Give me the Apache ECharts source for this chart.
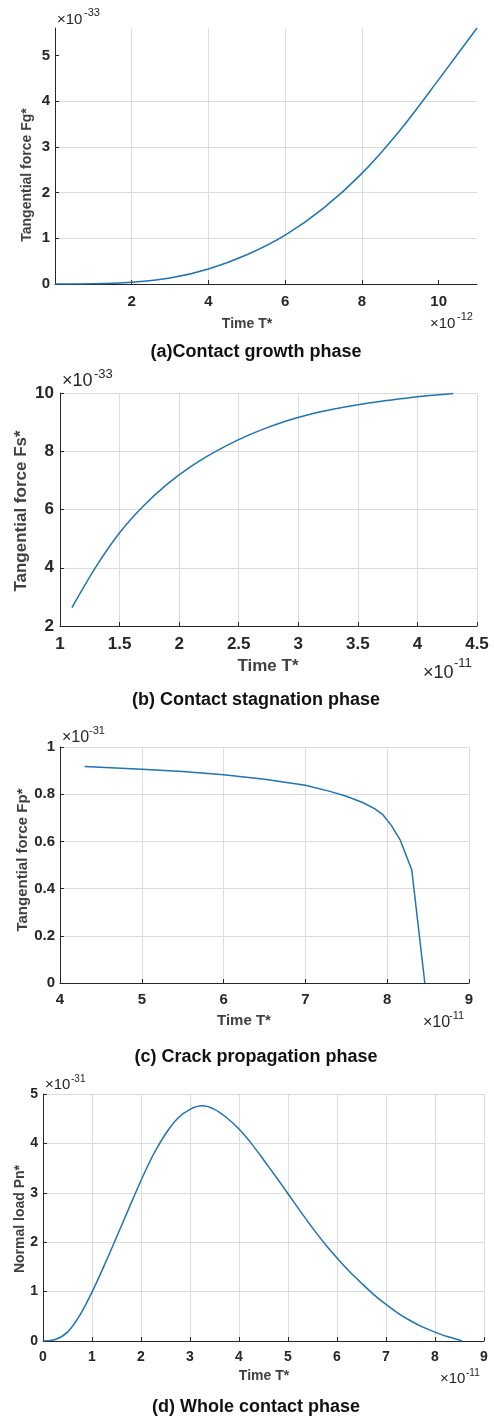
<!DOCTYPE html>
<html>
<head>
<meta charset="utf-8">
<script src="https://cdn.jsdelivr.net/npm/echarts@6/dist/echarts.min.js"></script>
<style>
    html, body { margin: 0; padding: 0; background: #fff; }
    #main { width: 494px; height: 1416px; }
</style>
</head>
<body>
<div id="main"></div>
<script>
    // (a) contact growth phase: T* in 1e-12, Fg* in 1e-33
    var growthT = [0, 1, 2, 3, 4, 5, 6, 7, 8, 9, 10, 11]
    var growthF = [0, 0.005, 0.04, 0.13, 0.33, 0.64, 1.07, 1.66, 2.42, 3.37, 4.47, 5.6]

    // (b) contact stagnation phase: T* in 1e-11, Fs* in 1e-33
    var stagT = [1.1, 1.3, 1.5, 1.7, 1.9, 2.1, 2.3, 2.5, 2.7, 2.9, 3.1, 3.3, 3.5, 3.7, 3.9, 4.1, 4.3]
    var stagF = [2.63, 4.02, 5.20, 6.12, 6.87, 7.48, 7.98, 8.40, 8.75, 9.04, 9.27, 9.45, 9.60, 9.72, 9.82, 9.91, 9.98]

    // (c) crack propagation phase: T* in 1e-11, Fp* in 1e-31
    var crackT = [4.3, 5, 5.5, 6, 6.5, 7, 7.3, 7.5, 7.7, 7.85, 7.95, 8.05, 8.16, 8.3, 8.46]
    var crackF = [0.917, 0.906, 0.896, 0.882, 0.863, 0.838, 0.812, 0.791, 0.765, 0.738, 0.712, 0.668, 0.605, 0.48, 0]

    // (d) whole contact phase: T* in 1e-11, Pn* in 1e-31
    var wholeT = [0, 0.25, 0.5, 0.75, 1, 1.25, 1.5, 1.75, 2, 2.25, 2.5, 2.75, 3, 3.25, 3.5, 3.75, 4, 4.25,
        4.5, 4.75, 5, 5.25, 5.5, 5.75, 6, 6.25, 6.5, 6.75, 7, 7.25, 7.5, 7.75, 8, 8.25, 8.5, 8.55]
    var wholeP = [0, 0.03, 0.18, 0.52, 0.99, 1.53, 2.10, 2.68, 3.25, 3.77, 4.19, 4.51, 4.69, 4.76, 4.69, 4.52, 4.29, 4.00,
        3.67, 3.33, 2.98, 2.63, 2.29, 1.97, 1.68, 1.41, 1.17, 0.94, 0.74, 0.56, 0.41, 0.28, 0.18, 0.09, 0.02, 0]

    var FONT = '"Liberation Sans", Arial, sans-serif'
    var DARK = '#262626'
    var LINE = '#1f74b2'

    function pairs (xs, ys) {
        return xs.map(function (x, i) { return [x, ys[i]] })
    }

    function axis (grid, min, max, interval, size, margin, extra) {
        var ax = {
            type: 'value', gridIndex: grid, min: min, max: max, interval: interval,
            axisLine: {show: true, onZero: false, lineStyle: {color: DARK, width: 1}},
            axisTick: {show: true, inside: true, length: 4, lineStyle: {color: DARK}},
            axisLabel: {color: DARK, fontWeight: 'bold', fontSize: size, fontFamily: FONT, margin: margin},
            splitLine: {show: true, lineStyle: {color: '#dcdcdc', width: 1}}
        }
        return Object.assign(ax, extra || {})
    }

    function txt (x, y, text, size, weight, color, rot) {
        return {
            type: 'text', x: x, y: y, rotation: rot || 0, silent: true,
            style: {text: text, fontSize: size, fontWeight: weight, fontFamily: FONT,
                fill: color, align: 'center', verticalAlign: 'middle'}
        }
    }

    // "×10" with a superscript exponent
    function expo (x, y, sx, sy, sup, size, supSize) {
        return [
            {type: 'text', x: x, y: y, silent: true,
                style: {text: '×10', fontSize: size, fontFamily: FONT, fill: DARK, align: 'left', verticalAlign: 'middle'}},
            {type: 'text', x: sx, y: sy, silent: true,
                style: {text: sup, fontSize: supSize, fontFamily: FONT, fill: DARK, align: 'left', verticalAlign: 'middle'}}
        ]
    }

    var graphics = [].concat(
        // (a)
        expo(57, 20, 84, 13, '-33', 15, 11),
        expo(430, 324, 457, 317, '-12', 15, 11),
        [txt(27, 175, 'Tangential force Fg*', 14, 'bold', '#404040', Math.PI / 2),
            txt(247, 324, 'Time T*', 14, 'bold', '#404040'),
            txt(256, 352, '(a)Contact growth phase', 18, 'bold', '#111')],
        // (b)
        expo(62, 381, 94, 374, '-33', 18, 13),
        expo(423, 673, 454, 663, '-11', 18, 13),
        [txt(21, 511, 'Tangential force Fs*', 17, 'bold', '#404040', Math.PI / 2),
            txt(268, 666, 'Time T*', 17, 'bold', '#404040'),
            txt(256, 700, '(b) Contact stagnation phase', 18, 'bold', '#111')],
        // (c)
        expo(62, 738, 89, 731, '-31', 16, 11),
        expo(423, 1023, 449, 1016, '-11', 16, 11),
        [txt(23, 860, 'Tangential force Fp*', 15, 'bold', '#404040', Math.PI / 2),
            txt(244, 1021, 'Time T*', 15, 'bold', '#404040'),
            txt(256, 1057, '(c) Crack propagation phase', 18, 'bold', '#111')],
        // (d)
        expo(45, 1085, 71, 1079, '-31', 15, 10),
        expo(440, 1379, 466, 1373, '-11', 15, 10),
        [txt(20, 1219, 'Normal load Pn*', 14, 'bold', '#404040', Math.PI / 2),
            txt(264, 1376, 'Time T*', 14, 'bold', '#404040'),
            txt(256, 1407, '(d) Whole contact phase', 18, 'bold', '#111')]
    )

    var chart = echarts.init(document.getElementById('main'), null, {renderer: 'canvas'})
    chart.setOption({
        backgroundColor: '#fff',
        animation: false,
        grid: [
            {left: 55, top: 28, width: 422, height: 256},
            {left: 60, top: 393, width: 417, height: 233},
            {left: 60, top: 747, width: 409, height: 236},
            {left: 43, top: 1094, width: 441, height: 247}
        ],
        xAxis: [
            axis(0, 0, 11, 2, 15, 10, {
                axisLabel: {color: DARK, fontWeight: 'bold', fontSize: 15, fontFamily: FONT, margin: 10,
                    showMinLabel: false, showMaxLabel: false},
                axisTick: {show: true, inside: true, length: 4, lineStyle: {color: DARK}, customValues: [2, 4, 6, 8, 10]},
                splitLine: {show: true, showMaxLine: false, lineStyle: {color: '#dcdcdc', width: 1}}
            }),
            axis(1, 1, 4.5, 0.5, 17, 10),
            axis(2, 4, 9, 1, 15, 9),
            axis(3, 0, 9, 1, 14, 9)
        ],
        yAxis: [
            axis(0, 0, 5.6, 1, 15, 5, {
                axisLabel: {color: DARK, fontWeight: 'bold', fontSize: 15, fontFamily: FONT, margin: 5, showMaxLabel: false},
                axisTick: {show: true, inside: true, length: 4, lineStyle: {color: DARK}, customValues: [0, 1, 2, 3, 4, 5]},
                splitLine: {show: true, showMaxLine: false, lineStyle: {color: '#dcdcdc', width: 1}}
            }),
            axis(1, 2, 10, 2, 17, 6),
            axis(2, 0, 1, 0.2, 15, 5),
            axis(3, 0, 5, 1, 14, 5)
        ],
        series: [
            {type: 'line', xAxisIndex: 0, yAxisIndex: 0, data: pairs(growthT, growthF), smooth: 0.3,
                showSymbol: false, lineStyle: {color: LINE, width: 1.5}},
            {type: 'line', xAxisIndex: 1, yAxisIndex: 1, data: pairs(stagT, stagF), smooth: 0.3,
                showSymbol: false, lineStyle: {color: LINE, width: 1.5}},
            {type: 'line', xAxisIndex: 2, yAxisIndex: 2, data: pairs(crackT, crackF), smooth: false,
                showSymbol: false, lineStyle: {color: LINE, width: 1.5}},
            {type: 'line', xAxisIndex: 3, yAxisIndex: 3, data: pairs(wholeT, wholeP), smooth: 0.3,
                showSymbol: false, lineStyle: {color: LINE, width: 1.5}}
        ],
        graphic: graphics
    })
</script>
</body>
</html>
